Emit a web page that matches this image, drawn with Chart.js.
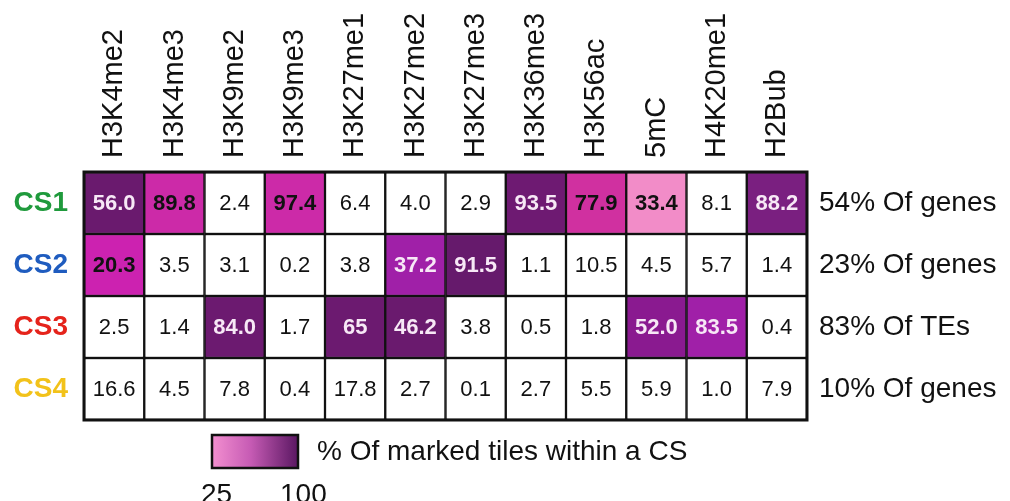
<!DOCTYPE html>
<html lang="en">
<head>
    <meta charset="UTF-8">
    <title>Chromatin states heatmap</title>
    <script src="https://cdn.jsdelivr.net/npm/chart.js"></script>
    <style>
        body {
            margin: 0;
            padding: 0;
            background-color: #fff;
        }

        .chart-container {
            width: 1010px;
            height: 501px;
        }
    </style>
</head>
<body>
<div class="chart-container">
    <canvas id="stateChart" width="1010" height="501"></canvas>
</div>

<script>
    // Marks (columns) and chromatin states (rows)
    var marks = ['H3K4me2', 'H3K4me3', 'H3K9me2', 'H3K9me3', 'H3K27me1', 'H3K27me2',
                 'H3K27me3', 'H3K36me3', 'H3K56ac', '5mC', 'H4K20me1', 'H2Bub'];
    var states = ['CS1', 'CS2', 'CS3', 'CS4'];
    var stateNotes = ['54% Of genes', '23% Of genes', '83% Of TEs', '10% Of genes'];

    // % of marked tiles within each state
    var cs1 = ['56.0', '89.8', '2.4', '97.4', '6.4', '4.0', '2.9', '93.5', '77.9', '33.4', '8.1', '88.2'];
    var cs2 = ['20.3', '3.5', '3.1', '0.2', '3.8', '37.2', '91.5', '1.1', '10.5', '4.5', '5.7', '1.4'];
    var cs3 = ['2.5', '1.4', '84.0', '1.7', '65', '46.2', '3.8', '0.5', '1.8', '52.0', '83.5', '0.4'];
    var cs4 = ['16.6', '4.5', '7.8', '0.4', '17.8', '2.7', '0.1', '2.7', '5.5', '5.9', '1.0', '7.9'];
    var rows = [cs1, cs2, cs3, cs4];

    // Cell fills (null = unmarked / white)
    var stateColors = ['#1f9a3c', '#1f5cbf', '#e5231b', '#f2c21a'];
    var fills = [
        ['#6a1a6e', '#cc2aa8', null, '#cc2aa8', null, null, null, '#6e1a72', '#d030a0', '#f28cc8', null, '#7a1f80'],
        ['#cc22b0', null, null, null, null, '#a020a8', '#661a6c', null, null, null, null, null],
        [null, null, '#6c1a70', null, '#6c1a70', '#6a1a6e', null, null, null, '#8a1a90', '#a020a8', null],
        [null, null, null, null, null, null, null, null, null, null, null, null]
    ];
    var darkFills = ['#6a1a6e', '#6e1a72', '#7a1f80', '#a020a8', '#661a6c', '#6c1a70', '#8a1a90'];

    var datasets = rows.map(function(row, i) {
        return {
            label: states[i],
            data: row.map(function(v, j) {
                return { x: marks[j], y: [i, i + 1], v: v };
            }),
            backgroundColor: fills[i].map(function(c) { return c || '#ffffff'; }),
            borderColor: '#111',
            borderWidth: 1.5,
            borderSkipped: false,
            grouped: false,
            barPercentage: 1,
            categoryPercentage: 1
        };
    });

    // Cell values, outer frame and the colour key
    var cellPlugin = {
        id: 'cellPlugin',
        afterDatasetsDraw: function(chart) {
            var ctx = chart.ctx;
            ctx.save();
            ctx.textAlign = 'center';
            ctx.textBaseline = 'middle';
            chart.data.datasets.forEach(function(ds, i) {
                chart.getDatasetMeta(i).data.forEach(function(bar, j) {
                    var p = bar.getProps(['x', 'y', 'base'], true);
                    var fill = fills[i][j];
                    var dark = fill && darkFills.indexOf(fill) >= 0;
                    ctx.font = (fill ? 'bold ' : '') + '22px "Liberation Sans", Arial, sans-serif';
                    ctx.fillStyle = dark ? '#f7e8f6' : '#111';
                    ctx.fillText(ds.data[j].v, p.x, (p.y + p.base) / 2 + 1);
                });
            });

            var a = chart.chartArea;
            ctx.strokeStyle = '#111';
            ctx.lineWidth = 3;
            ctx.strokeRect(a.left, a.top, a.right - a.left, a.bottom - a.top);

            // colour key
            var kx = a.left + 128, ky = a.bottom + 15, kw = 86, kh = 33;
            var grad = ctx.createLinearGradient(kx, 0, kx + kw, 0);
            grad.addColorStop(0, '#f38fd0');
            grad.addColorStop(0.45, '#c65bb4');
            grad.addColorStop(1, '#5a1762');
            ctx.fillStyle = grad;
            ctx.fillRect(kx, ky, kw, kh);
            ctx.lineWidth = 2.5;
            ctx.strokeRect(kx, ky, kw, kh);

            ctx.fillStyle = '#111';
            ctx.textAlign = 'left';
            ctx.textBaseline = 'middle';
            ctx.font = '28px "Liberation Sans", Arial, sans-serif';
            ctx.fillText('% Of marked tiles within a CS', kx + kw + 19, ky + kh / 2 + 1);
            ctx.textBaseline = 'alphabetic';
            ctx.fillText('25', kx - 11, 503);
            ctx.fillText('100', kx + 68, 503);
            ctx.restore();
        }
    };

    var rowTicks = function(scale) {
        scale.ticks = states.map(function(s, i) { return { value: i + 0.5 }; });
    };

    var ctx = document.getElementById('stateChart').getContext('2d');
    var stateChart = new Chart(ctx, {
        type: 'bar',
        data: {
            labels: marks,
            datasets: datasets
        },
        options: {
            responsive: false,
            animation: false,
            layout: { padding: { bottom: 81 } },
            plugins: {
                legend: { display: false },
                tooltip: { enabled: false }
            },
            scales: {
                x: {
                    type: 'category',
                    position: 'top',
                    grid: { display: false, drawTicks: false },
                    border: { display: false },
                    ticks: {
                        color: '#111',
                        minRotation: 90,
                        maxRotation: 90,
                        padding: 14,
                        labelOffset: 35,
                        font: { family: '"Liberation Sans", Arial, sans-serif', size: 29 }
                    },
                    afterFit: function(scale) { scale.height = 172; }
                },
                y: {
                    type: 'linear',
                    position: 'left',
                    min: 0,
                    max: 4,
                    reverse: true,
                    grid: { display: false, drawTicks: false },
                    border: { display: false },
                    afterBuildTicks: rowTicks,
                    ticks: {
                        padding: 16,
                        callback: function(v, i) { return states[i]; },
                        color: function(c) { return stateColors[c.index]; },
                        font: { family: '"Liberation Sans", Arial, sans-serif', size: 28, weight: 'bold' }
                    },
                    afterFit: function(scale) { scale.width = 84; }
                },
                y2: {
                    type: 'linear',
                    position: 'right',
                    min: 0,
                    max: 4,
                    reverse: true,
                    grid: { display: false, drawTicks: false },
                    border: { display: false },
                    afterBuildTicks: rowTicks,
                    ticks: {
                        padding: 12,
                        color: '#111',
                        callback: function(v, i) { return stateNotes[i]; },
                        font: { family: '"Liberation Sans", Arial, sans-serif', size: 28 }
                    },
                    afterFit: function(scale) { scale.width = 203; }
                }
            }
        },
        plugins: [cellPlugin]
    });
</script>
</body>
</html>
